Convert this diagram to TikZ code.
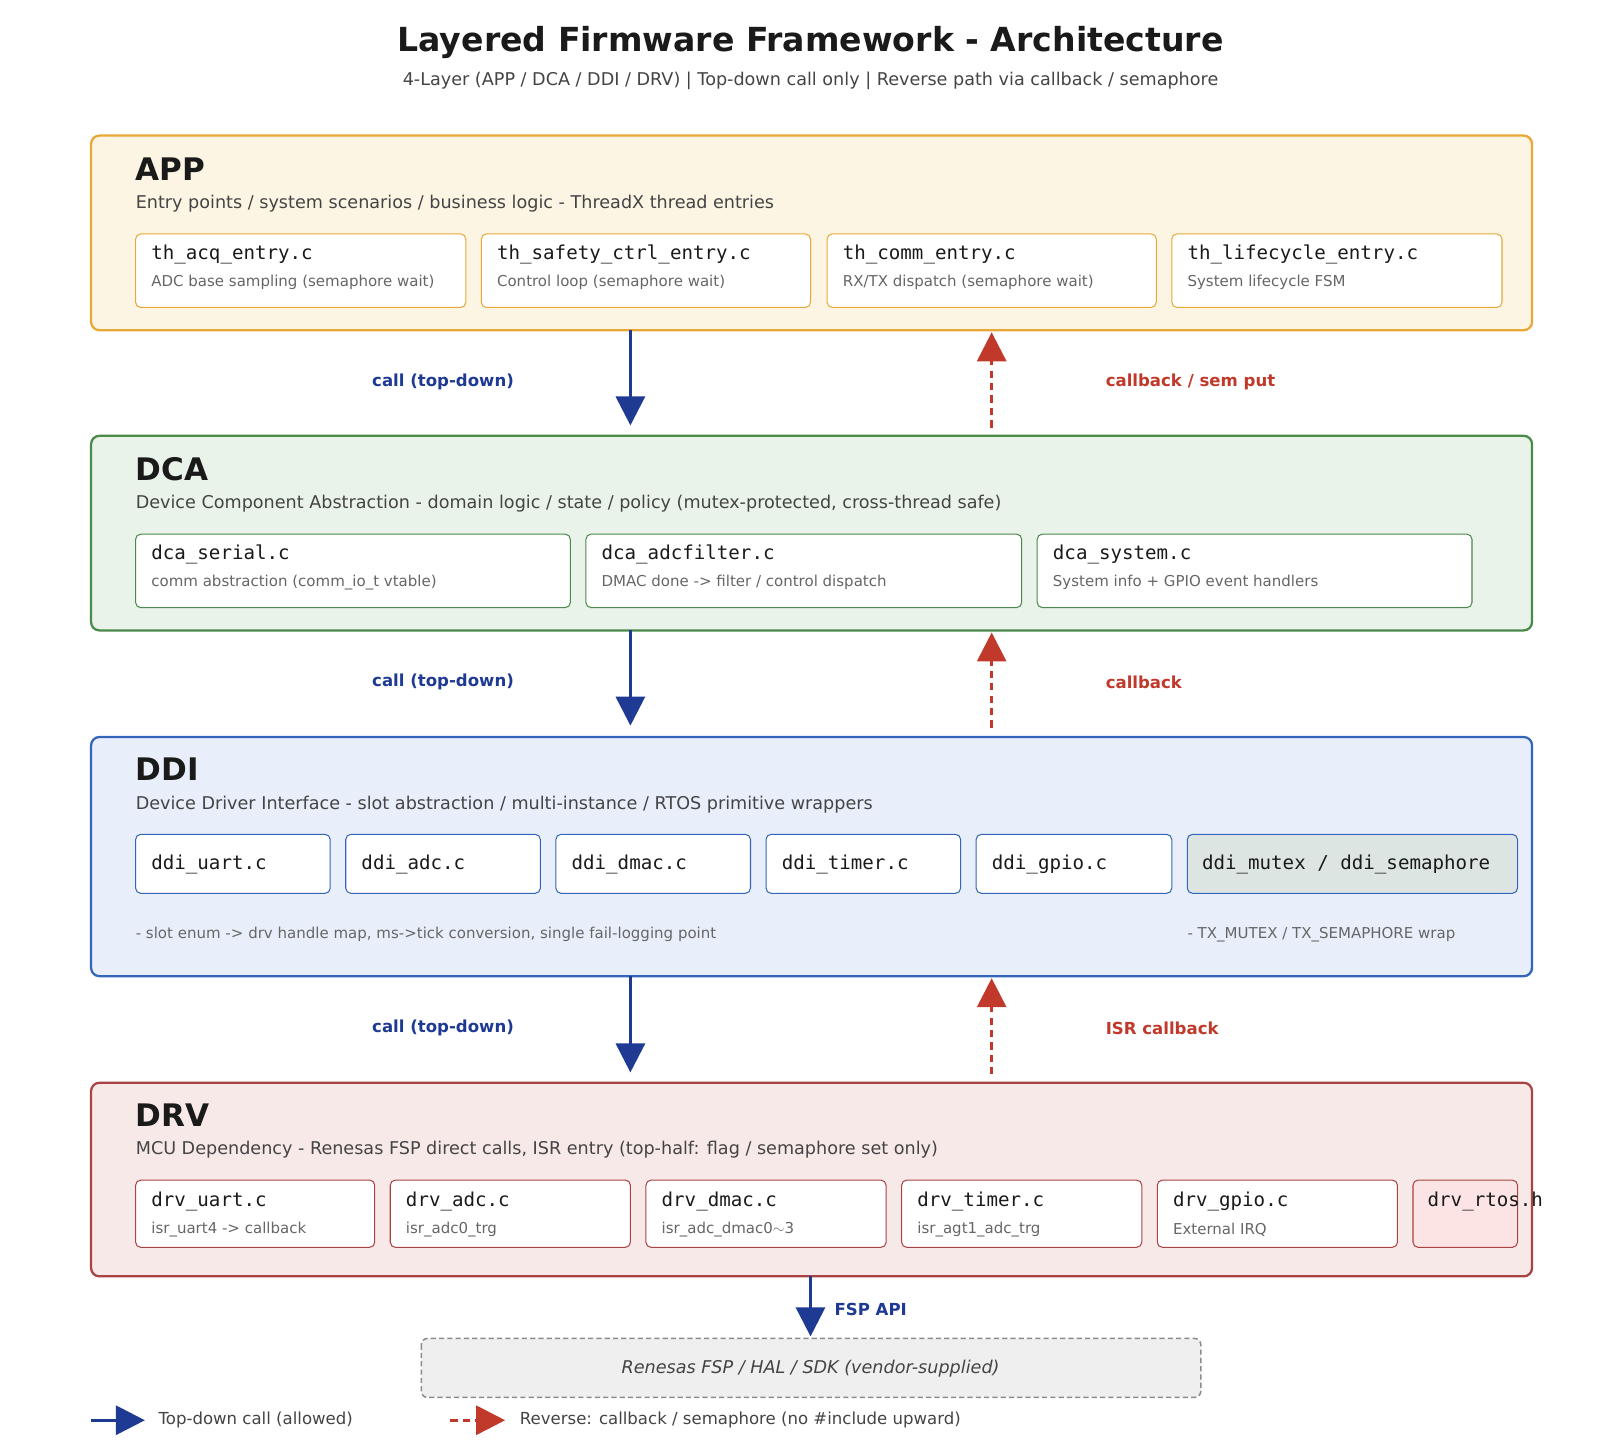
\documentclass[tikz,border=0pt]{standalone}
\usepackage{fontspec}
\setmainfont{DejaVu Sans}
\setmonofont{DejaVu Sans Mono}
\usetikzlibrary{arrows.meta}
\definecolor{appB}{HTML}{E8A838}\definecolor{appF}{HTML}{FDF5E4}
\definecolor{dcaB}{HTML}{4A8A4A}\definecolor{dcaF}{HTML}{E9F3E9}
\definecolor{ddiB}{HTML}{3366BB}\definecolor{ddiF}{HTML}{E8EFFA}
\definecolor{drvB}{HTML}{AA4444}\definecolor{drvF}{HTML}{F8E9E9}
\definecolor{callC}{HTML}{1F3A93}\definecolor{cbC}{HTML}{C0392B}
\definecolor{txt}{HTML}{1A1A1A}\definecolor{sub}{HTML}{444444}\definecolor{small}{HTML}{666666}
\begin{document}
\begin{tikzpicture}[x=1pt,y=-1pt,
 layer/.style={draw=#1B,fill=#1F,line width=2.2pt,rounded corners=8pt},
 mod/.style={draw=#1B,fill=white,line width=1pt,rounded corners=5pt},
 ltitle/.style={anchor=west,inner sep=0,font=\fontsize{30}{30}\selectfont\bfseries,text=txt},
 ldesc/.style={anchor=west,inner sep=0,font=\fontsize{17}{17}\selectfont,text=sub},
 fname/.style={anchor=west,inner sep=0,font=\fontsize{18.5}{18}\selectfont\ttfamily,text=txt},
 fdesc/.style={anchor=west,inner sep=0,font=\fontsize{14.5}{14}\selectfont,text=small},
 call/.style={draw=callC,line width=3pt,-{Triangle[width=28pt,length=28pt]}},
 cb/.style={draw=cbC,line width=3pt,dash pattern=on 7pt off 5pt,-{Triangle[width=28pt,length=28pt]}},
 clab/.style={inner sep=0,font=\fontsize{16}{16}\selectfont\bfseries,text=callC},
 blab/.style={anchor=west,inner sep=0,font=\fontsize{16}{16}\selectfont\bfseries,text=cbC}]
\useasboundingbox (0,0) rectangle (1565,1391);
\node[inner sep=0,font=\fontsize{32}{32}\selectfont\bfseries,text=txt] (title) at (783,41) {Layered Firmware Framework - Architecture};
\node[inner sep=0,font=\fontsize{17}{17}\selectfont,text=sub] (subt) at (783,78) {4-Layer (APP / DCA / DDI / DRV) | Top-down call only | Reverse path via callback / semaphore};
% APP
\draw[layer=app] (88,131) rectangle (1480,319);
\node[ltitle] (appT) at (131,163) {APP};
\node[ldesc] (appD) at (131,197) {Entry points / system scenarios / business logic - ThreadX thread entries};
\foreach \a/\b/\f/\d [count=\i] in {131/450/th\_acq\_entry.c/ADC base sampling (semaphore wait),465/783/th\_safety\_ctrl\_entry.c/Control loop (semaphore wait),799/1117/th\_comm\_entry.c/RX\slash TX dispatch (semaphore wait),1132/1451/th\_lifecycle\_entry.c/System lifecycle FSM}{
 \draw[mod=app] (\a,226) rectangle (\b,297);
 \node[fname] (appf\i) at (\a+15,246) {\f};
 \node[fdesc] (appd\i) at (\a+15,273) {\d};}
% DCA
\draw[layer=dca] (88,421) rectangle (1480,609);
\node[ltitle] (dcaT) at (131,453) {DCA};
\node[ldesc] (dcaD) at (131,487) {Device Component Abstraction - domain logic / state / policy (mutex-protected, cross-thread safe)};
\foreach \a/\b/\f/\d [count=\i] in {131/551/dca\_serial.c/comm abstraction (comm\_io\_t vtable),566/987/dca\_adcfilter.c/DMAC done -> filter \slash{} control dispatch,1002/1422/dca\_system.c/System info + GPIO event handlers}{
 \draw[mod=dca] (\a,516) rectangle (\b,587);
 \node[fname] (dcaf\i) at (\a+15,536) {\f};
 \node[fdesc] (dcad\i) at (\a+15,563) {\d};}
% DDI
\draw[layer=ddi] (88,712) rectangle (1480,943);
\node[ltitle] (ddiT) at (131,743) {DDI};
\node[ldesc] (ddiD) at (131,777) {Device Driver Interface - slot abstraction / multi-instance / RTOS primitive wrappers};
\foreach \a/\b/\f [count=\i] in {131/319/ddi\_uart.c,334/522/ddi\_adc.c,537/725/ddi\_dmac.c,740/928/ddi\_timer.c,943/1132/ddi\_gpio.c}{
 \draw[mod=ddi] (\a,806) rectangle (\b,863);
 \node[fname] (ddif\i) at (\a+15,835) {\f};}
\draw[mod=ddi,fill={rgb,255:red,221;green,229;blue,227}] (1147,806) rectangle (1466,863);
\node[fname] (ddif6) at (1161,835) {ddi\_mutex / ddi\_semaphore};
\node[fdesc] (ddin1) at (131,903) {- slot enum -> drv handle map, ms->tick conversion, single fail-logging point};
\node[fdesc] (ddin2) at (1147,903) {- TX\_MUTEX / TX\_SEMAPHORE wrap};
% DRV
\draw[layer=drv] (88,1046) rectangle (1480,1233);
\node[ltitle] (drvT) at (131,1077) {DRV};
\node[ldesc] (drvD) at (131,1111) {MCU Dependency - Renesas FSP direct calls, ISR entry (top-half: flag / semaphore set only)};
\foreach \a/\b/\f/\d [count=\i] in {131/362/drv\_uart.c/isr\_uart4 -> callback,377/609/drv\_adc.c/isr\_adc0\_trg,624/856/drv\_dmac.c/isr\_adc\_dmac0$\sim$3,871/1103/drv\_timer.c/isr\_agt1\_adc\_trg,1118/1350/drv\_gpio.c/External IRQ}{
 \draw[mod=drv] (\a,1140) rectangle (\b,1205);
 \node[fname] (drvf\i) at (\a+15,1161) {\f};
 \node[fdesc] (drvd\i) at (\a+15,1188) {\d};}
\draw[mod=drv,fill={rgb,255:red,252;green,228;blue,228}] (1365,1140) rectangle (1466,1205);
\node[fname] (drvf6) at (1379,1161) {drv\_rtos.h};
% arrows
\coordinate (a1s) at (609,319); \coordinate (a1e) at (609,411);
\coordinate (r1s) at (958,413); \coordinate (r1e) at (958,321);
\coordinate (a2s) at (609,609); \coordinate (a2e) at (609,701);
\coordinate (r2s) at (958,703); \coordinate (r2e) at (958,611);
\coordinate (a3s) at (609,943); \coordinate (a3e) at (609,1036);
\coordinate (r3s) at (958,1038); \coordinate (r3e) at (958,945);
\coordinate (a4s) at (783,1233); \coordinate (a4e) at (783,1291);
\draw[call] (a1s) -- (a1e); \draw[cb] (r1s) -- (r1e);
\draw[call] (a2s) -- (a2e); \draw[cb] (r2s) -- (r2e);
\draw[call] (a3s) -- (a3e); \draw[cb] (r3s) -- (r3e);
\draw[call] (a4s) -- (a4e);
\node[clab] (l1) at (428,369) {call (top-down)};
\node[clab] (l2) at (428,659) {call (top-down)};
\node[clab] (l3) at (428,993) {call (top-down)};
\node[blab] (b1) at (1068,369) {callback / sem put};
\node[blab] (b2) at (1068,659) {callback};
\node[blab] (b3) at (1068,993) {ISR callback};
\node[clab,anchor=west] (fspl) at (806,1265) {FSP API};
% FSP
\draw[draw=gray!90,fill={rgb,255:red,239;green,239;blue,239},line width=1.5pt,dash pattern=on 5pt off 3pt,rounded corners=6pt] (407,1293) rectangle (1160,1350);
\node[inner sep=0,font=\fontsize{17}{17}\selectfont\itshape,text=sub] (fsp) at (783,1322) {Renesas FSP / HAL / SDK (vendor-supplied)};
% legend
\coordinate (lg1) at (88,1372); \coordinate (lg2) at (140,1372);
\coordinate (lg3) at (435,1372); \coordinate (lg4) at (488,1372);
\draw[call] (lg1) -- (lg2); \draw[cb] (lg3) -- (lg4);
\node[anchor=west,inner sep=0,font=\fontsize{16}{16}\selectfont,text=sub] (lt1) at (153,1372) {Top-down call (allowed)};
\node[anchor=west,inner sep=0,font=\fontsize{16}{16}\selectfont,text=sub] (lt2) at (502,1372) {Reverse: callback / semaphore (no \#include upward)};
\end{tikzpicture}
\end{document}
